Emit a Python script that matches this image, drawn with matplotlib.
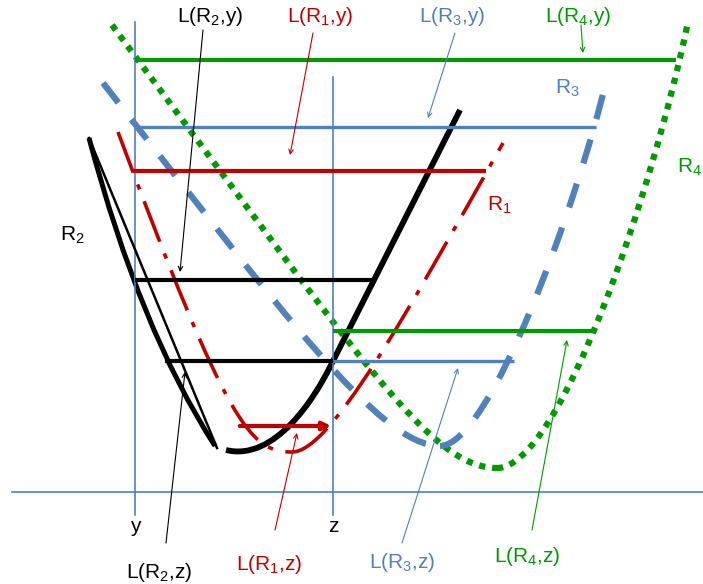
import matplotlib
matplotlib.use("Agg")
import matplotlib.pyplot as plt
from matplotlib.path import Path
from matplotlib.patches import PathPatch

plt.rcParams['font.family'] = ['Liberation Sans', 'DejaVu Sans']
plt.rcParams['mathtext.fontset'] = 'custom'
plt.rcParams['mathtext.rm'] = 'Liberation Sans'

# colours
RED = '#C00000'
BLUE = '#4F81BD'
GREEN = '#009A00'
BLACK = 'black'

# curve control points (pixel coords of the sketch, y pointing down)
r2_outer = [(89, 138), (140, 330), (215, 446)]
r2_inner = [(89, 138), (217, 448)]
r2_right = [(226, 450), (275, 462), (315, 397), (330, 367), (460, 110)]
r1_left = [(118, 132), (228, 427), (250, 452), (292, 452)]
r1_right = [(292, 452), (330, 452), (403, 320), (503, 143)]
r3_left = [(103, 83), (283, 313), (380, 446), (440, 446)]
r3_right = [(440, 446), (490, 446), (577, 204), (607, 78)]
r4_left = [(112, 25), (362, 361), (430, 468), (497, 468)]
r4_right = [(497, 468), (560, 468), (653, 190), (688, 22)]

# levels L(R,y) / L(R,z): (y, x_start, x_end, colour, width)
levels = [
    (60, 135, 676, GREEN, 3.0),
    (127, 135, 596, BLUE, 2.4),
    (171, 133, 486, RED, 3.0),
    (280, 135, 376, BLACK, 3.0),
    (331, 333, 596, GREEN, 3.0),
    (361, 165, 333, BLACK, 3.0),
    (361, 333, 514, BLUE, 2.4),
]

# labels: (R index, point), x, y, colour, arrow tail, arrow head
labels = [
    ('2', 'y', 210, 16, BLACK, (203, 30), (180, 272)),
    ('1', 'y', 320, 16, RED, (313, 33), (290, 155)),
    ('3', 'y', 452, 16, BLUE, (455, 33), (428, 118)),
    ('4', 'y', 578, 16, GREEN, (581, 25), (583, 53)),
    ('2', 'z', 159, 572, BLACK, (166, 543), (185, 372)),
    ('1', 'z', 269, 565, RED, (275, 530), (297, 433)),
    ('3', 'z', 402, 563, BLUE, (402, 543), (458, 368)),
    ('4', 'z', 527, 556, GREEN, (532, 530), (567, 340)),
]
curve_names = [('2', 72, 235, BLACK, 'center'), ('1', 499, 205, RED, 'center'),
               ('3', 567, 88, BLUE, 'center'), ('4', 702, 167, GREEN, 'right')]

fig = plt.figure(figsize=(7.03, 5.84), dpi=100)
ax = fig.add_axes([0, 0, 1, 1])
ax.set_xlim(0, 703)
ax.set_ylim(584, 0)
ax.axis('off')


def bezier(pts, **kw):
    if len(pts) == 3:
        codes = [Path.MOVETO, Path.CURVE3, Path.CURVE3]
    elif len(pts) == 5:
        codes = [Path.MOVETO, Path.CURVE4, Path.CURVE4, Path.CURVE4, Path.LINETO]
    else:
        codes = [Path.MOVETO] + [Path.CURVE4] * 3
    ax.add_patch(PathPatch(Path(pts, codes), fill=False, **kw))


# axes of the sketch
ax.plot([12, 703], [492, 492], color=BLUE, lw=1.2)
ax.plot([135, 135], [22, 515], color=BLUE, lw=1.2)
ax.plot([333, 333], [77, 515], color=BLUE, lw=1.2)
ax.text(135, 527, 'y', fontsize=15, ha='center', va='center')
ax.text(333, 527, 'z', fontsize=15, ha='center', va='center')

# R4 dotted
for pts in (r4_left, r4_right):
    bezier(pts, edgecolor=GREEN, lw=4.5, linestyle=(0, (1, 1.1)), capstyle='butt')
# R3 dashed
for pts in (r3_left, r3_right):
    bezier(pts, edgecolor=BLUE, lw=4.5, linestyle=(0, (4, 3.4)), capstyle='butt')
# R1 dash-dot
for pts in (r1_left, r1_right):
    bezier(pts, edgecolor=RED, lw=2.6, linestyle=(0, (12, 3.5, 1.5, 3.5)), capstyle='butt')
# R2 solid
bezier(r2_outer, edgecolor=BLACK, lw=3.6)
ax.plot([p[0] for p in r2_inner], [p[1] for p in r2_inner], color=BLACK, lw=1.8)
bezier(r2_right, edgecolor=BLACK, lw=4.2)

for y, x0, x1, c, w in levels:
    ax.plot([x0, x1], [y, y], color=c, lw=w, solid_capstyle='butt')

# red arrow along the bottom of R1
ax.annotate('', xy=(334, 426), xytext=(237, 426),
            arrowprops=dict(arrowstyle='-|>', color=RED, lw=3, mutation_scale=12))

for k, p, x, y, c, tail, head in labels:
    ax.text(x, y, r'$\mathregular{L(R_' + k + '{,}' + p + ')}$', color=c, fontsize=15,
            ha='center', va='center')
    ax.annotate('', xy=head, xytext=tail,
                arrowprops=dict(arrowstyle='->', color=c, lw=0.8, mutation_scale=8,
                                shrinkA=0, shrinkB=0))

for k, x, y, c, ha in curve_names:
    ax.text(x, y, r'$\mathregular{R_' + k + '}$', color=c, fontsize=15,
            ha=ha, va='center')

fig.savefig('out.png', dpi=100)
